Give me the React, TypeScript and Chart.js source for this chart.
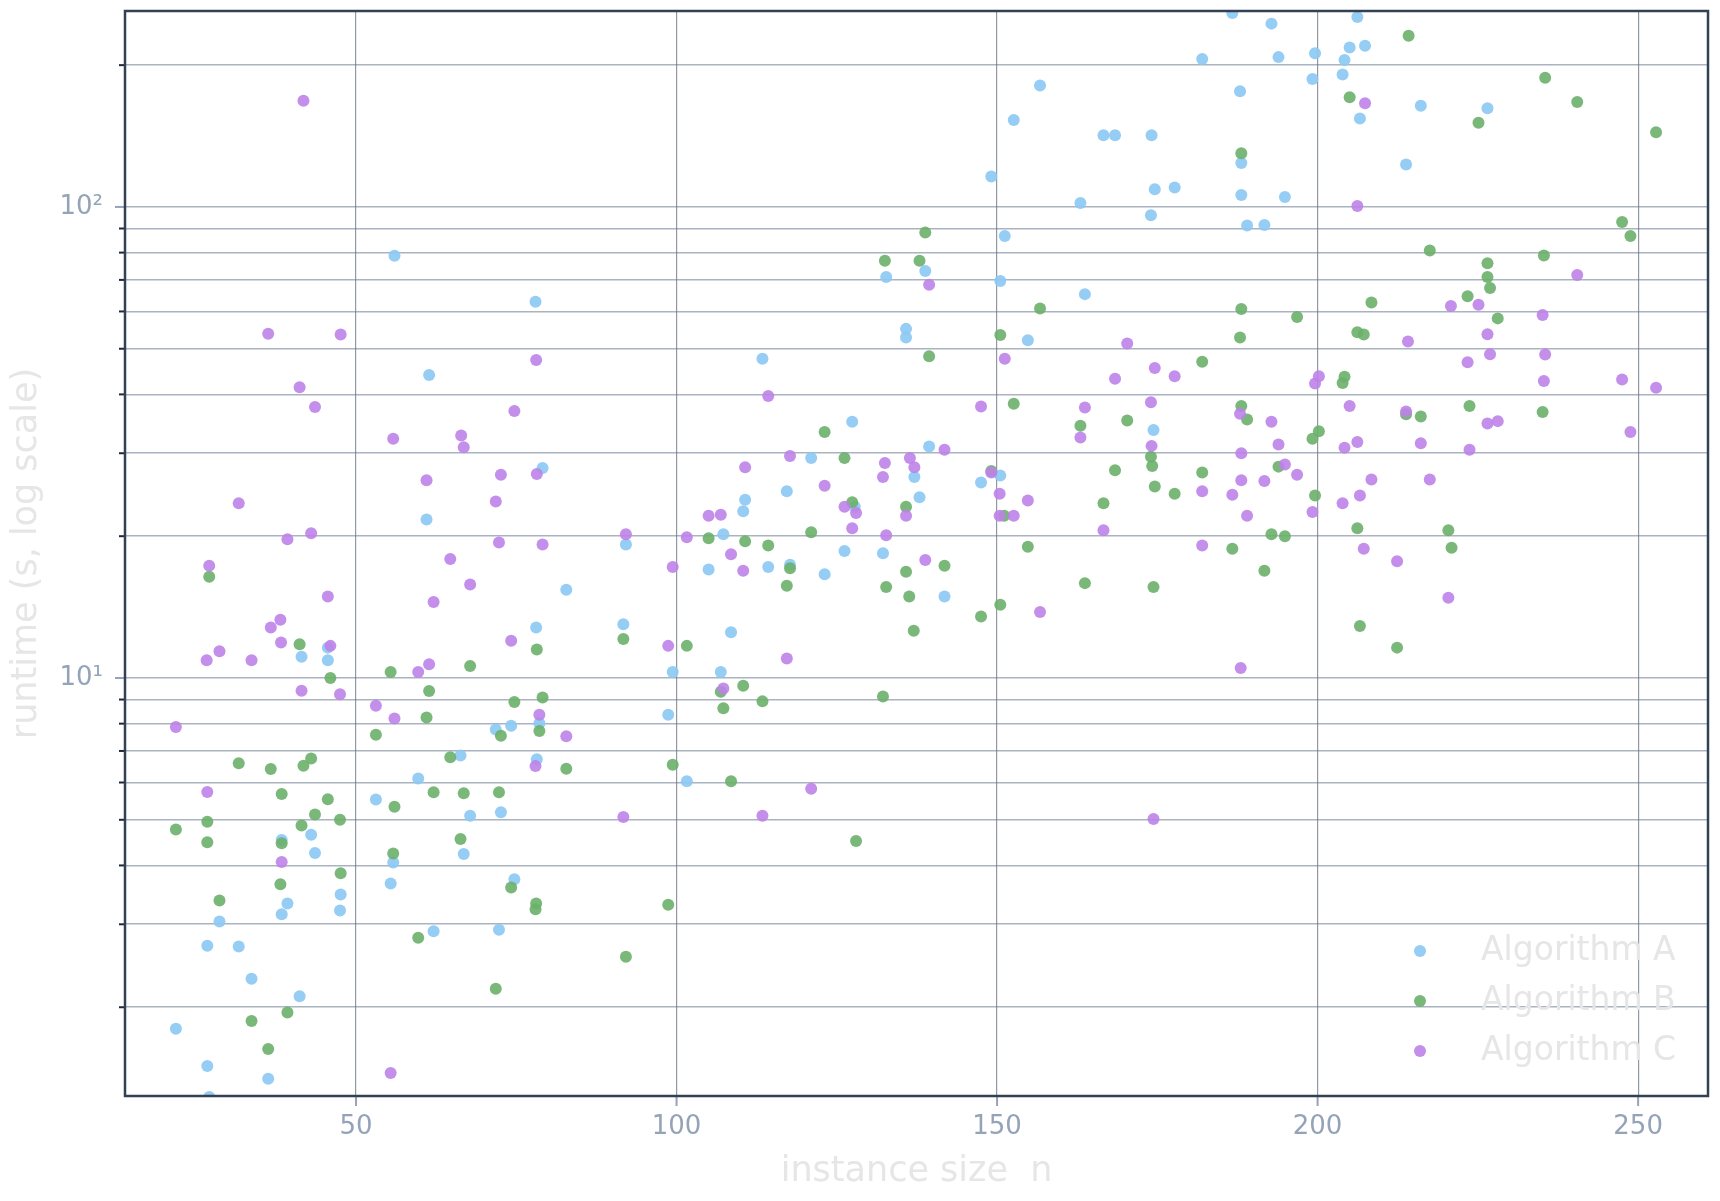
import React, { useEffect, useRef } from "react";
import { Chart, registerables } from "chart.js";

Chart.register(...registerables);

// ---- data: [instance size n, runtime in seconds] ----
const ALG_A: [number, number][] = [
  [56.0, 78.8], [78.0, 62.9], [61.4, 44.0], [113.4, 47.6], [127.4, 35.0], [132.7, 71.0],
  [135.8, 55.1], [135.8, 52.8], [121.0, 29.3], [79.1, 27.9], [117.2, 24.9], [110.7, 23.9],
  [110.4, 22.6], [127.8, 23.1], [61.0, 21.7], [92.1, 19.2], [107.3, 20.2], [126.2, 18.6],
  [132.2, 18.4], [105.0, 17.0], [114.3, 17.2], [117.7, 17.4], [123.1, 16.6], [82.8, 15.4],
  [45.6, 11.6], [41.5, 11.1], [45.6, 10.9], [71.8, 7.77], [74.2, 7.92], [78.6, 8.02],
  [78.2, 6.72], [66.3, 6.85], [59.7, 6.12], [53.1, 5.52], [67.8, 5.10], [72.6, 5.19],
  [38.4, 4.53], [43.0, 4.65], [43.6, 4.25], [66.8, 4.23], [55.8, 4.06], [55.4, 3.66],
  [39.3, 3.32], [38.4, 3.15], [47.6, 3.47], [47.5, 3.21], [28.7, 3.04], [26.8, 2.70],
  [31.7, 2.69], [33.7, 2.30], [41.2, 2.11], [21.9, 1.80], [26.8, 1.50], [36.3, 1.41],
  [27.1, 1.29], [62.1, 2.90], [72.3, 2.92], [74.7, 3.74], [101.6, 6.04], [98.7, 8.36],
  [99.4, 10.3], [106.9, 10.3], [91.7, 13.0], [108.5, 12.5], [78.1, 12.8],
  [186.7, 258], [192.8, 245], [206.2, 253], [182.0, 206], [193.9, 208], [199.6, 212],
  [205.0, 218], [207.4, 220], [204.2, 205], [203.9, 191], [199.2, 187], [156.7, 181],
  [187.9, 176], [216.1, 164], [226.5, 162], [152.6, 153], [206.6, 154], [166.6, 142],
  [168.4, 142], [174.1, 142], [188.1, 124], [213.8, 123], [149.1, 116], [174.6, 109],
  [177.7, 110], [188.1, 106], [194.9, 105], [163.0, 102], [174.0, 96.0], [189.0, 91.3],
  [191.7, 91.6], [151.2, 86.8], [138.8, 73.1], [150.5, 69.6], [163.7, 65.3], [154.8, 52.1],
  [174.4, 33.6], [147.5, 26.0], [150.5, 26.9], [139.4, 31.0], [137.9, 24.2], [137.1, 26.7],
  [141.8, 14.9],
];

const ALG_B: [number, number][] = [
  [123.1, 33.3], [132.5, 76.9], [126.2, 29.3], [127.4, 23.6], [135.8, 23.1], [121.0, 20.4],
  [105.0, 19.8], [110.7, 19.5], [114.3, 19.1], [27.1, 16.4], [117.7, 17.1], [135.8, 16.8],
  [132.7, 15.6], [136.3, 14.9], [137.0, 12.6], [117.2, 15.7], [41.2, 11.8], [46.0, 10.0],
  [55.4, 10.3], [67.8, 10.6], [61.4, 9.38], [61.0, 8.24], [53.1, 7.58], [72.6, 7.54],
  [74.7, 8.89], [79.1, 9.09], [78.6, 7.72], [82.8, 6.42], [64.7, 6.79], [56.0, 5.33],
  [62.1, 5.72], [66.8, 5.69], [72.3, 5.72], [31.7, 6.59], [36.7, 6.41], [41.8, 6.51],
  [43.0, 6.75], [38.4, 5.67], [45.6, 5.53], [43.6, 5.13], [47.5, 5.00], [41.5, 4.86],
  [21.9, 4.77], [26.8, 4.95], [26.8, 4.48], [38.4, 4.46], [66.3, 4.55], [55.8, 4.24],
  [47.6, 3.85], [38.2, 3.65], [28.7, 3.37], [39.3, 1.95], [33.7, 1.87], [36.3, 1.63],
  [59.7, 2.81], [71.8, 2.19], [92.1, 2.56], [74.2, 3.59], [78.1, 3.32], [78.0, 3.23],
  [98.7, 3.30], [128.0, 4.51], [108.5, 6.04], [99.4, 6.54], [107.3, 8.63], [106.9, 9.35],
  [110.4, 9.63], [113.4, 8.92], [132.2, 9.14], [101.6, 11.7], [91.7, 12.1], [78.2, 11.5],
  [214.2, 231], [235.5, 188], [205.0, 171], [240.5, 167], [225.1, 151], [252.8, 144],
  [188.1, 130], [247.5, 92.9], [248.8, 86.8], [138.8, 88.3], [137.9, 76.9], [217.5, 80.8],
  [235.3, 78.9], [226.5, 75.9], [226.5, 71.0], [226.9, 67.3], [156.7, 60.9], [188.1, 60.7],
  [196.8, 58.4], [208.4, 62.7], [223.4, 64.6], [228.1, 58.0], [150.5, 53.5], [187.9, 52.8],
  [206.2, 54.2], [207.2, 53.6], [139.4, 48.2], [182.0, 46.9], [204.2, 43.6], [203.9, 42.3],
  [152.6, 38.2], [188.1, 37.8], [189.0, 35.4], [213.8, 36.3], [216.1, 35.9], [223.7, 37.8],
  [235.1, 36.7], [163.0, 34.3], [170.3, 35.2], [174.0, 29.5], [174.2, 28.2], [168.4, 27.6],
  [182.0, 27.3], [199.2, 32.2], [200.2, 33.4], [193.9, 28.1], [174.6, 25.5], [177.7, 24.6],
  [199.6, 24.4], [166.6, 23.5], [149.1, 27.5], [151.1, 22.1], [154.8, 19.0], [186.7, 18.8],
  [192.8, 20.2], [194.9, 20.0], [206.2, 20.8], [220.4, 20.6], [220.9, 18.9], [141.8, 17.3],
  [147.5, 13.5], [150.5, 14.3], [163.7, 15.9], [174.4, 15.6], [191.7, 16.9], [206.6, 12.9],
  [212.4, 11.6],
];

const ALG_C: [number, number][] = [
  [41.8, 168], [36.3, 53.8], [47.6, 53.6], [78.1, 47.3], [41.2, 41.4], [43.6, 37.6],
  [74.7, 36.9], [114.3, 39.7], [55.8, 32.2], [66.4, 32.7], [66.8, 30.9], [117.7, 29.6],
  [110.7, 28.0], [78.2, 27.1], [72.6, 27.0], [61.0, 26.3], [132.5, 28.6], [132.2, 26.7],
  [123.1, 25.6], [105.0, 22.1], [106.9, 22.2], [126.2, 23.1], [128.0, 22.4], [135.8, 22.1],
  [127.4, 20.8], [132.7, 20.1], [31.7, 23.5], [71.8, 23.7], [39.3, 19.7], [43.0, 20.3],
  [72.3, 19.4], [79.1, 19.2], [92.1, 20.2], [101.6, 19.9], [108.5, 18.3], [27.1, 17.3],
  [64.7, 17.9], [99.4, 17.2], [110.4, 16.9], [67.8, 15.8], [62.1, 14.5], [45.6, 14.9],
  [38.2, 13.3], [36.7, 12.8], [38.3, 11.9], [46.0, 11.7], [26.7, 10.9], [28.7, 11.4],
  [33.7, 10.9], [41.5, 9.40], [47.5, 9.24], [21.9, 7.87], [59.7, 10.3], [61.4, 10.7],
  [53.1, 8.73], [56.0, 8.20], [78.6, 8.36], [82.8, 7.52], [78.0, 6.50], [26.8, 5.73],
  [38.4, 4.07], [91.7, 5.07], [113.4, 5.10], [121.0, 5.82], [107.3, 9.50], [98.7, 11.7],
  [117.2, 11.0], [74.2, 12.0], [55.4, 1.45],
  [207.4, 166], [206.2, 100.5], [139.4, 68.4], [240.5, 71.7], [220.8, 61.6], [225.1, 62.0],
  [235.1, 59.0], [214.1, 51.8], [226.5, 53.7], [151.2, 47.6], [170.3, 51.3], [223.4, 46.8],
  [226.9, 48.7], [235.5, 48.6], [174.6, 45.5], [168.4, 43.2], [177.7, 43.7], [200.2, 43.7],
  [199.6, 42.2], [235.3, 42.7], [247.5, 43.0], [252.8, 41.3], [147.5, 37.7], [163.7, 37.5],
  [174.0, 38.5], [187.9, 36.4], [192.8, 35.0], [205.0, 37.8], [213.8, 36.8], [226.5, 34.7],
  [228.1, 35.1], [248.8, 33.3], [163.0, 32.4], [174.1, 31.1], [188.1, 30.0], [193.9, 31.3],
  [204.2, 30.8], [206.2, 31.7], [216.1, 31.5], [223.7, 30.5], [194.9, 28.4], [196.8, 27.0],
  [208.4, 26.4], [217.5, 26.4], [188.1, 26.3], [191.7, 26.2], [182.0, 24.9], [186.7, 24.5],
  [206.6, 24.4], [203.9, 23.5], [199.2, 22.5], [189.0, 22.1], [149.1, 27.3], [150.4, 24.6],
  [154.8, 23.8], [150.4, 22.1], [152.6, 22.1], [166.6, 20.6], [182.0, 19.1], [207.2, 18.8],
  [141.8, 30.5], [136.4, 29.3], [137.1, 28.0], [138.8, 17.8], [156.7, 13.8], [212.4, 17.7],
  [220.4, 14.8], [188.0, 10.5], [174.4, 5.02],
];

const SERIES_NAMES = ["Algorithm A", "Algorithm B", "Algorithm C"];
const SERIES_COLORS = [
  "rgba(140,201,244,0.92)",
  "rgba(108,176,108,0.9)",
  "rgba(190,130,233,0.9)",
];

const X_TICKS = [50, 100, 150, 200, 250];
const Y_TICKS = [2, 3, 4, 5, 6, 7, 8, 9, 10, 20, 30, 40, 50, 60, 70, 80, 90, 100, 200];
const Y_LABELS: Record<number, string> = { 10: "10\u00B9", 100: "10\u00B2" };
const X_RANGE = [13.96, 260.9];
const Y_RANGE = [1.296, 260.6];

const X_TITLE = "instance size  n";
const Y_TITLE = "runtime (s, log scale)";

const FONT = "'DejaVu Sans', 'Liberation Sans', sans-serif";
const TICK_COLOR = "#94a3b8";
const MINOR_TICK_COLOR = "#1e293b";
const FRAME_COLOR = "#334155";
const TITLE_COLOR = "#e6e6e6";

const framePlugin = {
  id: "frameAndLegend",
  afterDraw(chart: any) {
    const { ctx, chartArea: a, scales } = chart;
    const xs = scales.x;
    const ys = scales.y;
    ctx.save();
    // tick marks
    ctx.lineWidth = 2;
    for (const v of Y_TICKS) {
      const py = ys.getPixelForValue(v);
      const major = Y_LABELS[v] !== undefined;
      ctx.strokeStyle = major ? TICK_COLOR : MINOR_TICK_COLOR;
      ctx.beginPath();
      ctx.moveTo(a.left - (major ? 10 : 6), py);
      ctx.lineTo(a.left, py);
      ctx.stroke();
    }
    ctx.strokeStyle = TICK_COLOR;
    for (const v of X_TICKS) {
      const px = xs.getPixelForValue(v);
      ctx.beginPath();
      ctx.moveTo(px, a.bottom);
      ctx.lineTo(px, a.bottom + 10);
      ctx.stroke();
    }
    // frame
    ctx.strokeStyle = FRAME_COLOR;
    ctx.lineWidth = 2.5;
    ctx.strokeRect(a.left, a.top, a.right - a.left, a.bottom - a.top);

    // axis titles
    ctx.fillStyle = TITLE_COLOR;
    ctx.font = `35px ${FONT}`;
    ctx.textAlign = "center";
    ctx.textBaseline = "middle";
    ctx.fillText(X_TITLE, (a.left + a.right) / 2, a.bottom + 76);
    ctx.save();
    ctx.translate(a.left - 98, (a.top + a.bottom) / 2);
    ctx.rotate(-Math.PI / 2);
    ctx.fillText(Y_TITLE, 0, 0);
    ctx.restore();

    // legend
    ctx.font = `33px ${FONT}`;
    ctx.textAlign = "left";
    SERIES_NAMES.forEach((name, i) => {
      const cy = a.bottom - 145 + i * 50;
      ctx.fillStyle = SERIES_COLORS[i];
      ctx.beginPath();
      ctx.arc(a.right - 288, cy, 6, 0, Math.PI * 2);
      ctx.fill();
      ctx.fillStyle = TITLE_COLOR;
      ctx.fillText(name, a.right - 227, cy);
    });
    ctx.restore();
  },
};

export default function App() {
  const canvasRef = useRef<HTMLCanvasElement | null>(null);

  useEffect(() => {
    document.body.style.margin = "0";
    const canvas = canvasRef.current;
    if (!canvas) return;
    Chart.defaults.font.family = FONT;

    const series = [ALG_A, ALG_B, ALG_C];
    const chart = new Chart(canvas, {
      type: "scatter",
      data: {
        datasets: series.map((pts, i) => ({
          label: SERIES_NAMES[i],
          data: pts.map(([n, t]) => ({ x: n, y: t })),
          backgroundColor: SERIES_COLORS[i],
          borderColor: SERIES_COLORS[i],
          borderWidth: 0,
          pointRadius: 6,
          pointHoverRadius: 6,
          order: 3 - i,
        })),
      },
      options: {
        animation: false,
        responsive: true,
        maintainAspectRatio: false,
        layout: { padding: { top: 11, right: 12, left: 0, bottom: 0 } },
        plugins: {
          legend: { display: false },
          tooltip: { enabled: false },
        },
        scales: {
          x: {
            type: "linear",
            min: X_RANGE[0],
            max: X_RANGE[1],
            afterBuildTicks: (scale: any) => {
              scale.ticks = X_TICKS.map((v) => ({ value: v }));
            },
            afterFit: (scale: any) => {
              scale.height = 105;
              scale.paddingLeft = 0;
              scale.paddingRight = 0;
              scale.paddingTop = 0;
              scale.paddingBottom = 0;
            },
            border: { display: false },
            grid: {
              color: "rgba(71,85,105,0.6)",
              lineWidth: 1.2,
              drawTicks: false,
            },
            ticks: {
              autoSkip: false,
              maxRotation: 0,
              padding: 16,
              color: TICK_COLOR,
              font: { size: 26, family: FONT },
              callback: (v: any) => String(v),
            },
          },
          y: {
            type: "logarithmic",
            min: Y_RANGE[0],
            max: Y_RANGE[1],
            afterBuildTicks: (scale: any) => {
              scale.ticks = Y_TICKS.map((v) => ({ value: v }));
            },
            afterFit: (scale: any) => {
              scale.width = 125;
              scale.paddingTop = 0;
              scale.paddingBottom = 0;
              scale.paddingLeft = 0;
              scale.paddingRight = 0;
            },
            border: { display: false },
            grid: {
              color: "rgba(100,116,139,0.55)",
              lineWidth: 1.6,
              drawTicks: false,
            },
            ticks: {
              autoSkip: false,
              padding: 22,
              color: TICK_COLOR,
              font: { size: 26, family: FONT },
              callback: (v: any) => Y_LABELS[Number(v)] ?? "",
            },
          },
        },
      },
      plugins: [framePlugin],
    });
    return () => chart.destroy();
  }, []);

  return (
    <div style={{ width: 1720, height: 1201, position: "relative" }}>
      <canvas ref={canvasRef} />
    </div>
  );
}
